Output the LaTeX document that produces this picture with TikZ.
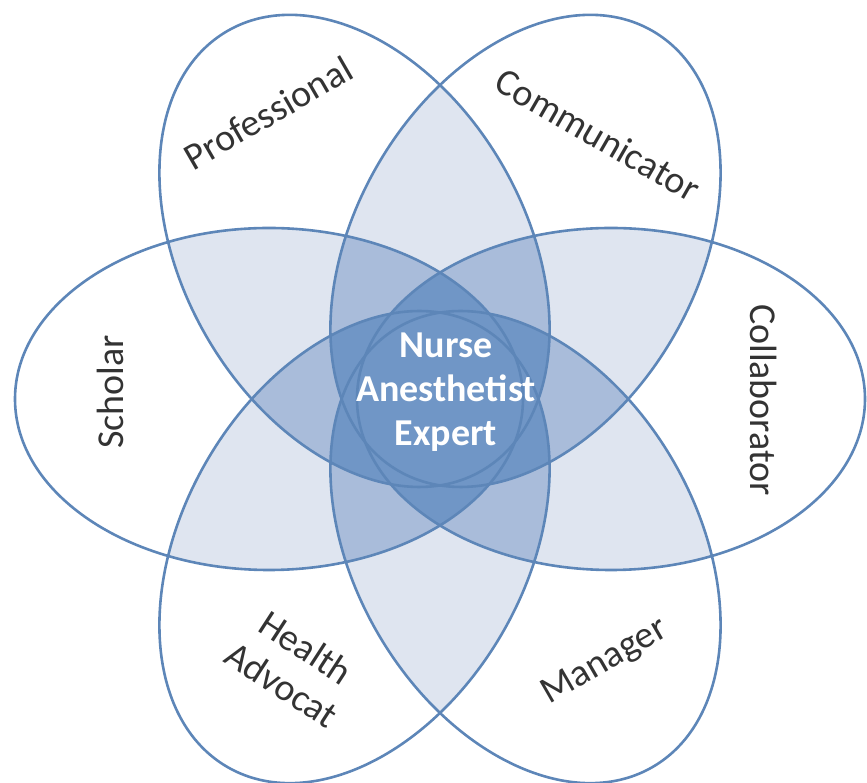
\documentclass[tikz,border=0pt]{standalone}
\usepackage{fontspec}
\setmainfont{Carlito}
\definecolor{edgeblue}{HTML}{5D86B8}
\definecolor{lvlA}{HTML}{DFE5F0}
\definecolor{lvlB}{HTML}{A9BCDA}
\definecolor{lvlC}{HTML}{7096C6}
\definecolor{labelgrey}{HTML}{333333}
\newcommand\clippetal[1]{\clip[rotate=#1*60] (171,0) ellipse [x radius=254pt, y radius=171pt];}
\newcommand\fillpetal[2]{\fill[#1, rotate=#2*60] (171,0) ellipse [x radius=254pt, y radius=171pt];}
\begin{document}
\begin{tikzpicture}[x=1pt,y=1pt,
  petallabel/.style={text=labelgrey, font=\fontsize{38}{44}\selectfont, align=center, inner sep=0pt},
  corelabel/.style={text=white, font=\bfseries\fontsize{38}{44}\selectfont, align=center, inner sep=0pt}]
\useasboundingbox (-440,-384) rectangle (427,399);
% two overlaps
\foreach \i in {0,...,5}{\foreach \j in {0,...,5}{\ifnum\j>\i
  \begin{scope}\clippetal{\i}\fillpetal{lvlA}{\j}\end{scope}\fi}}
% three overlaps
\foreach \i in {0,...,5}{\foreach \j in {0,...,5}{\foreach \k in {0,...,5}{%
  \ifnum\j>\i\ifnum\k>\j
  \begin{scope}\clippetal{\i}\clippetal{\j}\fillpetal{lvlB}{\k}\end{scope}\fi\fi}}}
% four overlaps
\foreach \i in {0,...,5}{\foreach \j in {0,...,5}{\foreach \k in {0,...,5}{\foreach \l in {0,...,5}{%
  \ifnum\j>\i\ifnum\k>\j\ifnum\l>\k
  \begin{scope}\clippetal{\i}\clippetal{\j}\clippetal{\k}\fillpetal{lvlC}{\l}\end{scope}\fi\fi\fi}}}}
% outlines
\foreach \i in {0,...,5}{
  \draw[edgeblue, line width=2.6pt, rotate=\i*60] (171,0) ellipse [x radius=254pt, y radius=171pt];}
% labels
\node[petallabel, rotate=30] (prof) at (-172,286) {Professional};
\node[petallabel, rotate=-30] (comm) at (158,264) {Communicator};
\node[petallabel, rotate=-90] (coll) at (324,-1) {Collaborator};
\node[petallabel, rotate=30] (mana) at (165,-263) {Manager};
\node[petallabel, rotate=-33] (heal) at (-146,-267) {Health\\Advocat};
\node[petallabel, rotate=90] (scho) at (-330,7) {Scholar};
\node[corelabel] (core) at (6,7) {Nurse\\Anesthetist\\Expert};
\end{tikzpicture}
\end{document}
